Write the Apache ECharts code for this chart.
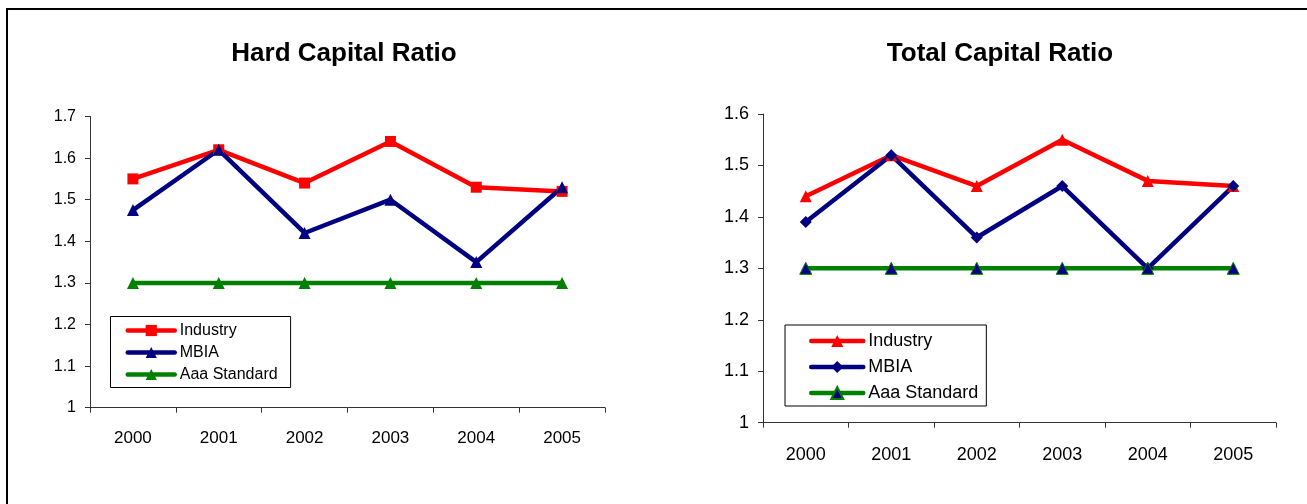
<!DOCTYPE html>
<html>
<head>
<meta charset="utf-8">
<script src="https://cdn.jsdelivr.net/npm/echarts@6/dist/echarts.min.js"></script>
<style>
  html, body { margin: 0; padding: 0; width: 1307px; height: 504px; overflow: hidden; background: #fff; }
  #frame { position: absolute; left: 6px; top: 8px; width: 1400px; height: 600px; border: 2px solid #000; box-sizing: border-box; }
  #c1 { position: absolute; left: 0; top: 0; width: 653px; height: 504px; }
  #c2 { position: absolute; left: 653px; top: 0; width: 654px; height: 504px; }
</style>
</head>
<body>
<div id="frame"></div>
<div id="c1"></div>
<div id="c2"></div>
<script>
const years = ['2000', '2001', '2002', '2003', '2004', '2005'];
const seriesNames = ['Industry', 'MBIA', 'Aaa Standard'];

const hardTitle = 'Hard Capital Ratio';
const hardIndustry = [1.55, 1.62, 1.54, 1.64, 1.53, 1.52];
const hardMBIA = [1.475, 1.62, 1.42, 1.50, 1.35, 1.53];
const hardAaa = [1.3, 1.3, 1.3, 1.3, 1.3, 1.3];
const hardAxis = { min: 1, max: 1.7, interval: 0.1 };

const totalTitle = 'Total Capital Ratio';
const totalIndustry = [1.44, 1.52, 1.46, 1.55, 1.47, 1.46];
const totalMBIA = [1.39, 1.52, 1.36, 1.46, 1.30, 1.46];
const totalAaa = [1.3, 1.3, 1.3, 1.3, 1.3, 1.3];
const totalAxis = { min: 1, max: 1.6, interval: 0.1 };

const FONT = "'Liberation Sans', Arial, sans-serif";
const RED = '#ff0000', NAVY = '#000080', GREEN = '#008000', AXIS = '#333333';

function makeOption(cfg) {
  return {
    animation: false,
    title: {
      text: cfg.title, left: cfg.titleX, top: cfg.titleY, textAlign: 'center', padding: 0,
      textStyle: { fontFamily: FONT, fontWeight: 'bold', fontSize: cfg.titleSize, color: '#000', lineHeight: cfg.titleSize }
    },
    legend: {
      orient: 'vertical', left: cfg.legend.left, top: cfg.legend.top,
      padding: cfg.legend.padding, itemWidth: cfg.legend.itemWidth, itemHeight: cfg.legend.itemHeight,
      itemGap: cfg.legend.itemGap, borderColor: '#000', borderWidth: 1, backgroundColor: '#fff',
      lineStyle: { width: 4.5, cap: 'round' },
      textStyle: { fontFamily: FONT, fontSize: cfg.legend.fontSize, lineHeight: cfg.legend.fontSize, color: '#000' },
      data: seriesNames
    },
    grid: cfg.grid,
    xAxis: {
      type: 'category', data: years, boundaryGap: true,
      axisLine: { lineStyle: { color: AXIS, width: 1 } },
      axisTick: { show: true, length: 5, inside: false, lineStyle: { color: AXIS } },
      axisLabel: { fontFamily: FONT, fontSize: cfg.xLabelSize, color: '#000', margin: cfg.xLabelMargin },
      splitLine: { show: false }
    },
    yAxis: {
      type: 'value', min: cfg.axis.min, max: cfg.axis.max, interval: cfg.axis.interval,
      axisLine: { show: true, lineStyle: { color: AXIS, width: 1 } },
      axisTick: { show: true, length: 5, lineStyle: { color: AXIS } },
      axisLabel: { fontFamily: FONT, fontSize: cfg.yLabelSize, color: '#000', margin: 14 },
      splitLine: { show: false }
    },
    series: cfg.series
  };
}

function line(name, data, color, symbol, size, itemStyle) {
  return {
    type: 'line', name: name, data: data, symbol: symbol, symbolSize: size, showAllSymbol: true,
    lineStyle: { color: color, width: 4.5 },
    itemStyle: itemStyle || { color: color },
    emphasis: { disabled: true }
  };
}

const chart1 = echarts.init(document.getElementById('c1'), null, { renderer: 'canvas' });
chart1.setOption(makeOption({
  title: hardTitle, titleX: 344, titleY: 41, titleSize: 26,
  grid: { left: 90, right: 48, top: 116.5, bottom: 96.3 },
  axis: hardAxis, xLabelSize: 17, xLabelMargin: 22, yLabelSize: 16,
  legend: { left: 110.5, top: 316.5, padding: [6, 13, 5, 15], itemWidth: 47, itemHeight: 14, itemGap: 6, fontSize: 16 },
  series: [
    line('Industry', hardIndustry, RED, 'rect', 11),
    line('MBIA', hardMBIA, NAVY, 'triangle', 12),
    line('Aaa Standard', hardAaa, GREEN, 'triangle', 12)
  ]
}));

const chart2 = echarts.init(document.getElementById('c2'), null, { renderer: 'canvas' });
chart2.setOption(makeOption({
  title: totalTitle, titleX: 1000 - 653, titleY: 41, titleSize: 26,
  grid: { left: 110, right: 31, top: 114, bottom: 81.3 },
  axis: totalAxis, xLabelSize: 18, xLabelMargin: 23, yLabelSize: 18,
  legend: { left: 132, top: 325, padding: [7, 8, 4, 24], itemWidth: 52, itemHeight: 15, itemGap: 8, fontSize: 18 },
  series: [
    line('Industry', totalIndustry, RED, 'triangle', 12),
    line('MBIA', totalMBIA, NAVY, 'diamond', 12),
    line('Aaa Standard', totalAaa, GREEN, 'triangle', 12, { color: NAVY, borderColor: GREEN, borderWidth: 1 })
  ]
}));
</script>
</body>
</html>
